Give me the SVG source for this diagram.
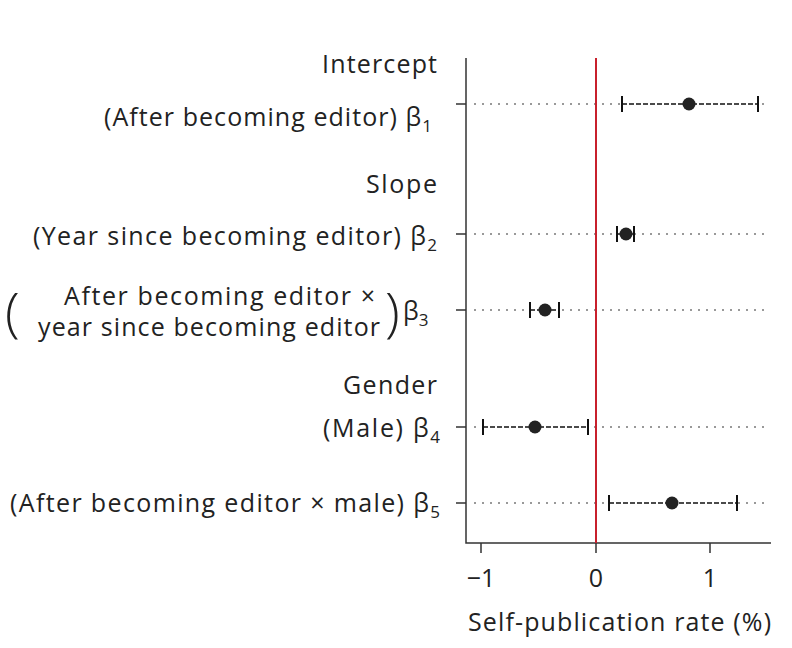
<svg xmlns="http://www.w3.org/2000/svg" width="792" height="648" viewBox="0 0 792 648">
<style>
text{font-family:"Open Sans","Liberation Sans",Arial,sans-serif;fill:#222;font-size:25px}
.r{text-anchor:end}
.s{font-size:17px}
.p{font-size:54px;font-weight:300}
.ax{stroke:#333;stroke-width:1.5;fill:none}
.dot{stroke:#999;stroke-width:2;stroke-dasharray:2 6;fill:none}
.ci{stroke:#111;stroke-width:1.6;stroke-dasharray:5 2;fill:none}
.cap{stroke:#111;stroke-width:2;fill:none}
</style>
<rect width="792" height="648" fill="#fff"/>
<g id="labels">
<text class="r" x="437" y="73" textLength="115">Intercept</text>
<text class="r" x="432" y="126" textLength="328">(After becoming editor) β<tspan class="s" dy="6">1</tspan></text>
<text class="r" x="437" y="193" textLength="71">Slope</text>
<text class="r" x="437" y="245" textLength="404">(Year since becoming editor) β<tspan class="s" dy="6">2</tspan></text>
<text x="64" y="305" textLength="311">After becoming editor ×</text>
<text x="38" y="336" textLength="342">year since becoming editor</text>
<text class="p" x="5" y="331">(</text>
<text class="p" x="385" y="331">)</text>
<text x="403" y="320">β<tspan class="s" dy="6">3</tspan></text>
<text class="r" x="437" y="394" textLength="94">Gender</text>
<text class="r" x="440" y="437" textLength="117">(Male) β<tspan class="s" dy="6">4</tspan></text>
<text class="r" x="440" y="512" textLength="430">(After becoming editor × male) β<tspan class="s" dy="6">5</tspan></text>
</g>
<g id="axes">
<path class="ax" d="M466 58V543H771M456 104H466M456 234H466M456 310H466M456 427H466M456 503H466M481 543V553M596 543V553M710 543V553"/>
<text x="481" y="587" text-anchor="middle">−1</text>
<text x="596" y="587" text-anchor="middle">0</text>
<text x="710" y="587" text-anchor="middle">1</text>
<text x="468" y="631" textLength="303">Self-publication rate (%)</text>
</g>
<g id="gridlines">
<path class="dot" d="M474 104H770M474 234H770M474 310H770M474 427H770M474 503H770"/>
</g>
<line id="zero" x1="596" y1="58" x2="596" y2="543" stroke="#c8202c" stroke-width="2"/>
<g id="connectors">
<rect x="622" y="97" width="136" height="14" fill="#fff"/>
<path class="ci" d="M622 104H758"/><path class="cap" d="M622 96V112M758 96V112"/><circle cx="689" cy="104" r="6.5" fill="#222"/>
<rect x="617" y="227" width="17" height="14" fill="#fff"/>
<path class="ci" d="M617 234H634"/><path class="cap" d="M617 226V242M634 226V242"/><circle cx="626" cy="234" r="6.5" fill="#222"/>
<rect x="530" y="303" width="29" height="14" fill="#fff"/>
<path class="ci" d="M530 310H559"/><path class="cap" d="M530 302V318M559 302V318"/><circle cx="545" cy="310" r="6.5" fill="#222"/>
<rect x="483" y="420" width="105" height="14" fill="#fff"/>
<path class="ci" d="M483 427H588"/><path class="cap" d="M483 419V435M588 419V435"/><circle cx="535" cy="427" r="6.5" fill="#222"/>
<rect x="609" y="496" width="128" height="14" fill="#fff"/>
<path class="ci" d="M609 503H737"/><path class="cap" d="M609 495V511M737 495V511"/><circle cx="672" cy="503" r="6.5" fill="#222"/>
</g>
</svg>
